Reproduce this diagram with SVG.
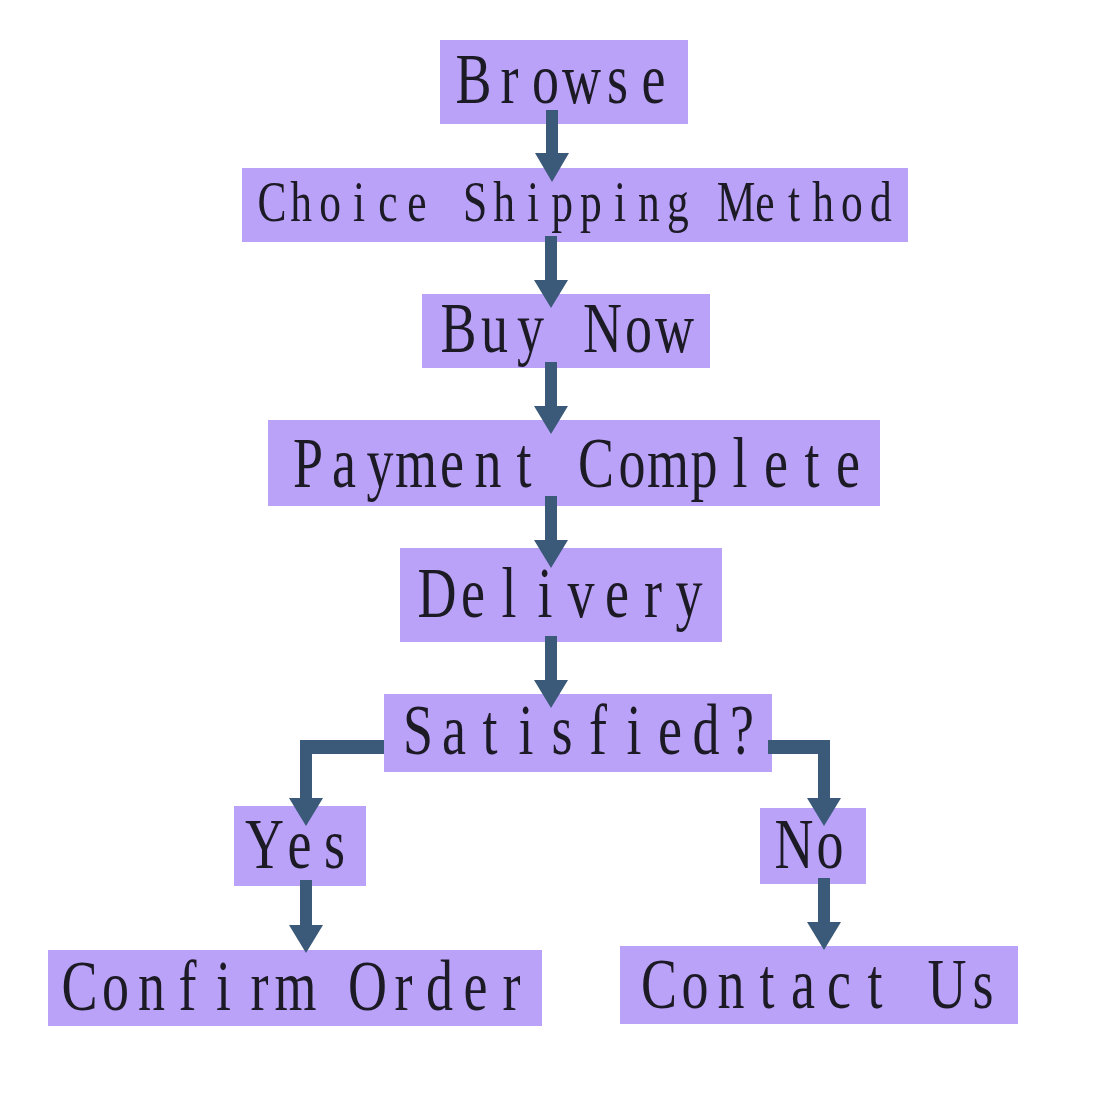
<svg xmlns="http://www.w3.org/2000/svg" width="1100" height="1100" viewBox="0 0 1100 1100">
<style>
.box{fill:#b9a2f8}
.lbl{font-family:"Liberation Serif","Times New Roman",serif;font-size:72px;fill:#1c1a24;text-anchor:middle}
.sm{font-size:58px}
.arr{fill:#3b5978}
</style>
<rect width="1100" height="1100" fill="#ffffff"/>
<g id="node-browse"><rect class="box" x="440" y="40" width="248" height="84"/><text class="lbl" transform="translate(563.5,103) scale(0.75,1)" x="-120 -72 -24 24 72 120" y="0">Browse</text></g>
<g id="node-shipping"><rect class="box" x="242" y="168" width="666" height="74"/><text class="lbl sm" transform="translate(576.5,221) scale(0.75,1)" x="-406 -367.33 -328.67 -290 -251.33 -212.67 -174 -135.33 -96.67 -58 -19.33 19.33 58 96.67 135.33 174 212.67 251.33 290 328.67 367.33 406" y="0">Choice Shipping Method</text></g>
<g id="node-buynow"><rect class="box" x="422" y="294" width="288" height="74"/><text class="lbl" transform="translate(566.5,352) scale(0.75,1)" x="-144 -96 -48 0 48 96 144" y="0">Buy Now</text></g>
<g id="node-payment"><rect class="box" x="268" y="420" width="612" height="86"/><text class="lbl" transform="translate(578,487) scale(0.75,1)" x="-360 -312 -264 -216 -168 -120 -72 -24 24 72 120 168 216 264 312 360" y="0">Payment Complete</text></g>
<g id="node-delivery"><rect class="box" x="400" y="548" width="322" height="94"/><text class="lbl" transform="translate(563,617) scale(0.75,1)" x="-168 -120 -72 -24 24 72 120 168" y="0">Delivery</text></g>
<g id="node-satisfied"><rect class="box" x="384" y="694" width="388" height="78"/><text class="lbl" transform="translate(580,754) scale(0.75,1)" x="-216 -168 -120 -72 -24 24 72 120 168 216" y="0">Satisfied?</text></g>
<g id="node-yes"><rect class="box" x="234" y="806" width="132" height="80"/><text class="lbl" transform="translate(299.5,868) scale(0.75,1)" x="-46.67 0 46.67" y="0">Yes</text></g>
<g id="node-no"><rect class="box" x="760" y="808" width="106" height="76"/><text class="lbl" transform="translate(812,868) scale(0.75,1)" x="-24 24" y="0">No</text></g>
<g id="node-confirm"><rect class="box" x="48" y="950" width="494" height="76"/><text class="lbl" transform="translate(295.5,1010) scale(0.75,1)" x="-288 -240 -192 -144 -96 -48 0 48 96 144 192 240 288" y="0">Confirm Order</text></g>
<g id="node-contact"><rect class="box" x="620" y="946" width="398" height="78"/><text class="lbl" transform="translate(821,1008) scale(0.75,1)" x="-216 -168 -120 -72 -24 24 72 120 168 216" y="0">Contact Us</text></g>
<g id="connectors">
<polygon class="arr" points="546,110 558,110 558,153 569,153 552,182 535,153 546,153"/>
<polygon class="arr" points="545,236 557,236 557,280 568,280 551,308 534,280 545,280"/>
<polygon class="arr" points="545,362 557,362 557,406 568,406 551,434 534,406 545,406"/>
<polygon class="arr" points="545,496 557,496 557,540 568,540 551,568 534,540 545,540"/>
<polygon class="arr" points="545,636 557,636 557,680 568,680 551,708 534,680 545,680"/>
<polygon class="arr" points="384,740 384,754 312,754 312,798 323,798 306,826 289,798 300,798 300,740"/>
<polygon class="arr" points="768,740 830,740 830,798 841,798 824,826 807,798 818,798 818,754 768,754"/>
<polygon class="arr" points="300,880 312,880 312,925 323,925 306,953 289,925 300,925"/>
<polygon class="arr" points="818,878 830,878 830,922 841,922 824,950 807,922 818,922"/>
</g>
</svg>
